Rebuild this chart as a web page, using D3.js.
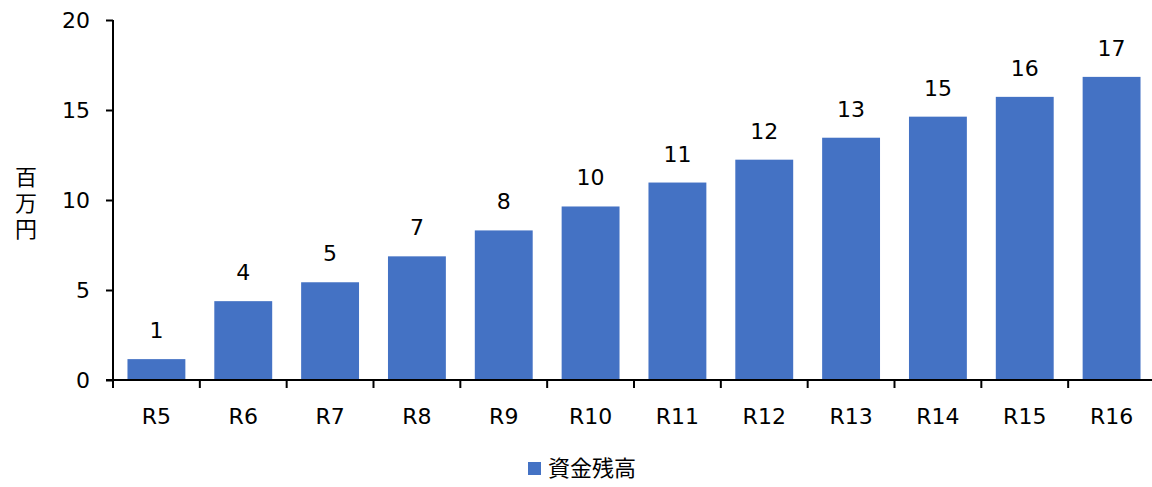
<!DOCTYPE html>
<html><head><meta charset="utf-8">
<script src="https://cdn.jsdelivr.net/npm/d3@7"></script>
<style>
body{margin:0;background:#fff;}
text{font-family:"DejaVu Sans","Noto Sans CJK JP",sans-serif;fill:#000;}
</style></head>
<body><svg id="c" width="1152" height="487"></svg>
<script>
const categories = ["R5","R6","R7","R8","R9","R10","R11","R12","R13","R14","R15","R16"];
const values = [1.16,4.38,5.43,6.87,8.31,9.64,10.97,12.24,13.46,14.63,15.73,16.84];
const yTicks = [0,5,10,15,20];
const seriesName = "資金残高";
const yLabel = "百万円";

const svg = d3.select("#c");
const x = d3.scaleBand().domain(categories).range([113,1155]).paddingInner(1/3).paddingOuter(1/6);
const y = d3.scaleLinear().domain([0,20]).range([380,20]);
const color = "#4472C4";

svg.selectAll("rect.bar").data(values).enter().append("rect")
  .attr("x",(d,i)=>x(categories[i])).attr("width",x.bandwidth())
  .attr("y",d=>y(d)).attr("height",d=>y(0)-y(d)).attr("fill",color);

svg.selectAll("text.lbl").data(values).enter().append("text")
  .attr("x",(d,i)=>x(categories[i])+x.bandwidth()/2).attr("y",d=>y(d)-21)
  .attr("text-anchor","middle").style("font-size","22px").text(d=>Math.round(d));

const yAxis = svg.append("g").attr("transform","translate(113,0)")
  .call(d3.axisLeft(y).tickValues(yTicks).tickSize(7).tickPadding(16));
yAxis.selectAll("text").style("font-size","22px").style("font-family",'"DejaVu Sans",sans-serif').attr("fill","#000");
yAxis.selectAll("line,path").attr("stroke","#000").attr("stroke-width",2);
yAxis.select("path").attr("d","M0,380V20");

const xb = d3.scaleBand().domain(categories).range([113,1155]);
const xAxis = svg.append("g").attr("transform","translate(0,380)");
xAxis.append("line").attr("x1",106).attr("x2",1155).attr("y1",0).attr("y2",0).attr("stroke","#000").attr("stroke-width",2);
xAxis.selectAll("line.t").data(categories).enter().append("line")
  .attr("x1",d=>xb(d)).attr("x2",d=>xb(d)).attr("y1",0).attr("y2",8).attr("stroke","#000").attr("stroke-width",2);
xAxis.selectAll("text").data(categories).enter().append("text")
  .attr("x",d=>xb(d)+xb.bandwidth()/2).attr("y",44).attr("text-anchor","middle")
  .style("font-size","22px").text(d=>d);

svg.append("text").attr("x",26).attr("y",166)
  .style("writing-mode","vertical-rl").style("glyph-orientation-vertical","0")
  .style("letter-spacing","4px")
  .style("font-size","22px").style("font-family",'"Noto Sans CJK JP",sans-serif').text(yLabel);

svg.append("rect").attr("x",528).attr("y",462).attr("width",13).attr("height",13).attr("fill",color);
svg.append("text").attr("x",548).attr("y",476).style("font-size","22px")
  .style("font-family",'"Noto Sans CJK JP",sans-serif').text(seriesName);
</script></body></html>
